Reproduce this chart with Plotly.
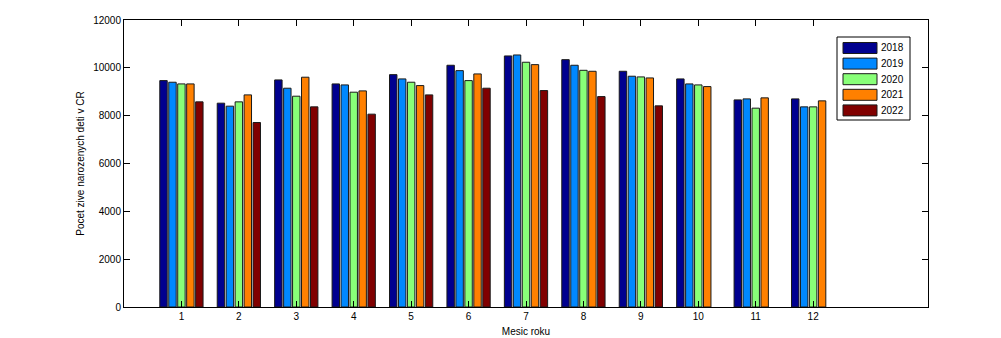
import plotly.graph_objects as go

MONTHS = [1, 2, 3, 4, 5, 6, 7, 8, 9, 10, 11, 12]
YEARS = ["2018", "2019", "2020", "2021", "2022"]
V2018 = [9466, 8522, 9495, 9328, 9716, 10108, 10497, 10342, 9856, 9537, 8660, 8702]
V2019 = [9398, 8397, 9148, 9286, 9537, 9883, 10538, 10108, 9649, 9328, 8702, 8368]
V2020 = [9328, 8577, 8814, 8981, 9398, 9466, 10234, 9897, 9620, 9286, 8314, 8368]
V2021 = [9328, 8869, 9608, 9036, 9258, 9745, 10134, 9856, 9578, 9216, 8744, 8619]
V2022 = [8577, 7713, 8368, 8063, 8869, 9148, 9049, 8798, 8410, None, None, None]
SERIES = [V2018, V2019, V2020, V2021, V2022]
COLORS = ["#00008F", "#0088FF", "#88FF78", "#FF8000", "#800000"]
Y_TICKS = [0, 2000, 4000, 6000, 8000, 10000, 12000]

FONT = "Liberation Sans, Arial, sans-serif"

fig = go.Figure()
for name, vals, col in zip(YEARS, SERIES, COLORS):
    fig.add_trace(go.Bar(
        x=MONTHS, y=vals, name=name,
        marker=dict(color=col, line=dict(color="#1a1a1a", width=1)),
        showlegend=False,
    ))

# custom legend (MATLAB style wide swatches)
W, H = 1001, 338
L, R, T, B = 124, 73, 20, 31
PW, PH = W - L - R, H - T - B
def px(x):
    return (x - L) / PW
def py(y):
    return (H - B - y) / PH

shapes = [dict(type="rect", xref="paper", yref="paper",
               x0=px(837), x1=px(910), y0=py(120), y1=py(37),
               line=dict(color="black", width=1), fillcolor="white", layer="above")]
annotations = []
for i, (name, col) in enumerate(zip(YEARS, COLORS)):
    cy = 48 + 15.6 * i
    shapes.append(dict(type="rect", xref="paper", yref="paper",
                       x0=px(843), x1=px(877), y0=py(cy + 5.5), y1=py(cy - 5.5),
                       line=dict(color="#1a1a1a", width=1), fillcolor=col, layer="above"))
    annotations.append(dict(xref="paper", yref="paper", x=px(879), y=py(cy),
                            xanchor="left", yanchor="middle", text=name, showarrow=False,
                            font=dict(family=FONT, size=10, color="black")))

fig.update_layout(
    width=W, height=H,
    margin=dict(l=L, r=R, t=T, b=B, autoexpand=False),
    paper_bgcolor="white", plot_bgcolor="white",
    barmode="group", bargap=0.22, bargroupgap=0.17,
    font=dict(family=FONT, size=10, color="black"),
    shapes=shapes, annotations=annotations,
    xaxis=dict(range=[0, 14], tickmode="array", tickvals=MONTHS, ticktext=[str(m) for m in MONTHS],
               ticks="inside", ticklen=6, tickcolor="black", showline=True, linecolor="black",
               linewidth=1, mirror="ticks", showgrid=False, zeroline=False,
               title=dict(text="Mesic roku", standoff=6, font=dict(size=10)),
               automargin=False),
    yaxis=dict(range=[0, 12000], tickmode="array", tickvals=Y_TICKS,
               ticktext=[str(t) for t in Y_TICKS],
               ticks="inside", ticklen=6, tickcolor="black", showline=True, linecolor="black",
               linewidth=1, mirror="ticks", showgrid=False, zeroline=False,
               title=dict(text="Pocet zive narozenych deti v CR", standoff=6, font=dict(size=10)),
               automargin=False),
)

fig.write_html("out.html")
